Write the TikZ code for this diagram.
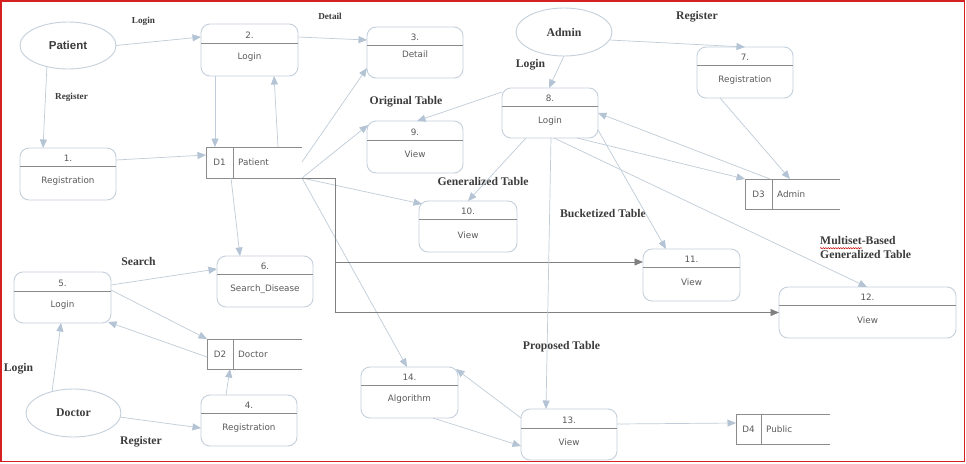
\documentclass[tikz,border=0pt]{standalone}
\usepackage{fontspec}
\setmainfont{Liberation Serif}
\newfontfamily\boxfont{DejaVu Sans}
\newfontfamily\sansb{Liberation Sans}
\usetikzlibrary{arrows.meta,calc,shapes.geometric,decorations.pathmorphing}
\definecolor{lnc}{HTML}{C0CCD8}
\definecolor{tipc}{HTML}{B4C4D4}
\definecolor{boxc}{HTML}{C4D0DC}
\definecolor{hdc}{HTML}{8A8A8A}
\definecolor{stc}{HTML}{8C8C8C}
\definecolor{dkc}{HTML}{808080}
\definecolor{txc}{HTML}{5A5A5A}
\definecolor{lbc}{HTML}{3C3C3C}
\definecolor{frc}{HTML}{D42020}
\tikzset{
  pboxst/.style={draw=boxc, line width=0.9pt, rounded corners=9pt, rectangle, inner sep=0pt, outer sep=0pt},
  hline/.style={draw=hdc, line width=0.8pt},
  ptext/.style={font=\boxfont\fontsize{8.8}{10}\selectfont, text=txc, inner sep=0pt},
  sline/.style={draw=stc, line width=0.9pt},
  stnode/.style={rectangle, inner sep=0pt, outer sep=0pt},
  ellst/.style={ellipse, draw=boxc, line width=0.9pt, inner sep=0pt, outer sep=0pt},
  arr/.style={draw=lnc, line width=0.7pt, -{Triangle[length=8.5pt,width=7pt,color=tipc]}},
  darr/.style={draw=dkc, line width=0.9pt, -{Triangle[length=8.5pt,width=7pt,color=dkc]}},
  biglbl/.style={font=\bfseries\fontsize{11.7}{14}\selectfont, text=lbc, inner sep=0pt},
  smlbl/.style={font=\bfseries\fontsize{9.2}{11}\selectfont, text=lbc, inner sep=0pt},
}
% name, x1, y1, x2, y2, header offset, number, label, label offset
\newcommand\procbox[9]{%
  \node[pboxst, minimum width={(#4-#2)*1pt}, minimum height={(#5-#3)*1pt}] (#1) at ({(#2+#4)/2},{(#3+#5)/2}) {};
  \draw[hline] (#2,#3+#6) -- (#4,#3+#6);
  \node[ptext] at ({(#2+#4)/2},{#3+(#6)/2+1.5}) {#7};
  \node[ptext] at ({(#2+#4)/2},{#3+#9+0.5}) {#8};
}
% name, x1, y1, xdiv, x2, y2, id, label
\newcommand\datastore[8]{%
  \node[stnode, minimum width={(#5-#2)*1pt}, minimum height={(#6-#3)*1pt}] (#1) at ({(#2+#5)/2},{(#3+#6)/2}) {};
  \draw[sline] (#5,#3) -- (#2,#3) -- (#2,#6) -- (#5,#6);
  \draw[sline] (#4,#3) -- (#4,#6);
  \node[ptext] at ({(#2+#4)/2},{(#3+#6)/2}) {#7};
  \node[ptext, anchor=west] at ({#4+5},{(#3+#6)/2}) {#8};
}
\begin{document}
\begin{tikzpicture}[x=1pt,y=-1pt]
\useasboundingbox (0,0) rectangle (966,463);
\fill[white] (0,0) rectangle (966,463);
\draw[frc, line width=1.6pt] (1,1) rectangle (964.5,461.5);

% process boxes
\procbox{b2}{201}{24}{298}{76}{19}{2.}{Login}{33}
\procbox{b1}{20}{148}{116}{200}{18}{1.}{Registration}{33}
\procbox{b3}{367}{27}{463}{78}{18}{3.}{Detail}{27}
\procbox{b9}{367}{121}{463}{173}{19}{9.}{View}{33}
\procbox{b8}{502}{88}{598}{138}{18}{8.}{Login}{33}
\procbox{b10}{419}{201}{517}{252}{18}{10.}{View}{34}
\procbox{b7}{697}{47}{793}{98}{18}{7.}{Registration}{33}
\procbox{b11}{643}{249}{740}{301}{18}{11.}{View}{33}
\procbox{b12}{779}{287}{956}{338}{18}{12.}{View}{33}
\procbox{b5}{14}{272}{111}{323}{19}{5.}{Login}{33}
\procbox{b6}{217}{256}{313}{307}{18}{6.}{Search\_Disease}{33}
\procbox{b4}{201}{395}{297}{446}{18}{4.}{Registration}{33}
\procbox{b14}{361}{367}{458}{418}{18}{14.}{Algorithm}{32}
\procbox{b13}{521}{409}{617}{460}{19}{13.}{View}{33}

% data stores
\datastore{d1}{206}{147}{233}{302}{178}{D1}{Patient}
\datastore{d2}{207}{339}{233}{302}{369}{D2}{Doctor}
\datastore{d3}{745}{179}{772}{840}{209}{D3}{Admin}
\datastore{d4}{736}{414}{761}{830}{444}{D4}{Public}

% external entities
\node[ellst, minimum width=96pt, minimum height=47pt, font=\sansb\bfseries\fontsize{11.5}{13}\selectfont, text=lbc] (pat) at (68,45.5) {Patient};
\node[ellst, minimum width=96pt, minimum height=48pt, font=\bfseries\fontsize{11.8}{13}\selectfont, text=lbc] (adm) at (564,32) {Admin};
\node[ellst, minimum width=95pt, minimum height=48pt, font=\bfseries\fontsize{11.8}{13}\selectfont, text=lbc] (doc) at (73.5,413) {Doctor};

% labels
\node[smlbl] (l1) at (143.5,21.5) {Login};
\node[smlbl] (l2) at (71.5,97) {Register};
\node[smlbl] (l3) at (330,16) {Detail};
\node[biglbl] (l4) at (406,101.5) {Original Table};
\node[biglbl] (l5) at (530.5,64.5) {Login};
\node[biglbl] (l6) at (483,181.5) {Generalized Table};
\node[biglbl] (l7) at (697,16.5) {Register};
\node[biglbl] (l8) at (603,213.5) {Bucketized Table};
\node[biglbl, anchor=west, align=left] (l9) at (820,247) {Multiset-Based\\Generalized Table};
\node[biglbl] (l10) at (138.5,261.5) {Search};
\node[biglbl] (l11) at (18.5,368.5) {Login};
\node[biglbl] (l12) at (141,442) {Register};
\node[biglbl] (l13) at (561.5,346.5) {Proposed Table};
\draw[red!80!black, line width=0.5pt, decorate, decoration={snake, amplitude=0.6pt, segment length=2.5pt}] ($(l9.north west)+(0,12.5)$) -- ++(42,0);

% connectors
\draw[arr] (pat.east) -- ($(b2.north west)+(0,13)$);
\draw[arr] (pat.225) -- ($(b1.north west)+(23,0)$);
\draw[arr] ($(b2.south west)+(14,0)$) -- ($(d1.north west)+(9,0)$);
\draw[arr] ($(d1.north west)+(72,0)$) -- ($(b2.south west)+(73,0)$);
\draw[arr] ($(b1.north east)+(0,12)$) -- ($(d1.north west)+(0,8)$);
\draw[arr] ($(b2.north east)+(0,13)$) -- ($(b3.north west)+(0,13)$);
\draw[arr] ($(d1.north east)+(0,15)$) -- ($(b3.south west)+(0,-10)$);
\draw[arr] (d1.south east) -- ($(b9.north west)+(1,4)$);
\draw[arr] (d1.south east) -- ($(b10.north west)+(3,3)$);
\draw[arr] ($(d1.south west)+(25,0)$) -- ($(b6.north west)+(23,0)$);
\draw[arr] (d1.south east) -- ($(b14.north west)+(46,0)$);
\draw[darr] (d1.south east) -- ++(33,0) |- (b12.west);
\draw[darr] ($(d1.south east)+(33,84)$) -- ($(b11.north west)+(0,13)$);
\draw[arr] (adm.south) -- ($(b8.north west)+(47,0)$);
\draw[arr] (adm.350) -- ($(b7.north west)+(48,0)$);
\draw[arr] ($(b8.north west)+(0,4)$) -- ($(b9.north west)+(50,0)$);
\draw[arr] ($(b8.south west)+(24,0)$) -- ($(b10.north west)+(49,0)$);
\draw[arr] ($(b8.south west)+(49,0)$) -- ($(b13.north west)+(25,0)$);
\draw[arr] ($(b8.south east)+(0,-8)$) -- ($(b11.north west)+(23,0)$);
\draw[arr] ($(b8.south west)+(52,0)$) -- ($(b12.north west)+(88,0)$);
\draw[arr] ($(b8.south west)+(75,0)$) -- (d3.north west);
\draw[arr] ($(d3.north west)+(25,0)$) -- ($(b8.north east)+(0,25)$);
\draw[arr] ($(b7.south west)+(23,0)$) -- ($(d3.north west)+(45,0)$);
\draw[arr] ($(b5.north east)+(0,13)$) -- ($(b6.north west)+(0,13)$);
\draw[arr] ($(b5.north east)+(0,18)$) -- (d2.north west);
\draw[arr] ($(d2.north west)+(0,18)$) -- ($(b5.south east)+(-3,-1)$);
\draw[arr] (doc.135) -- ($(b5.south west)+(47,0)$);
\draw[arr] (doc.-5) -- ($(b4.north west)+(0,33)$);
\draw[arr] ($(b4.north west)+(25,0)$) -- ($(d2.south west)+(23,0)$);
\draw[arr] ($(b13.north west)+(0,9)$) -- ($(b14.north east)+(-2,2)$);
\draw[arr] ($(b14.south west)+(72,0)$) -- ($(b13.north west)+(0,37)$);
\draw[arr] ($(b13.north east)+(0,15)$) -- ($(d4.north west)+(0,9)$);
\end{tikzpicture}
\end{document}
